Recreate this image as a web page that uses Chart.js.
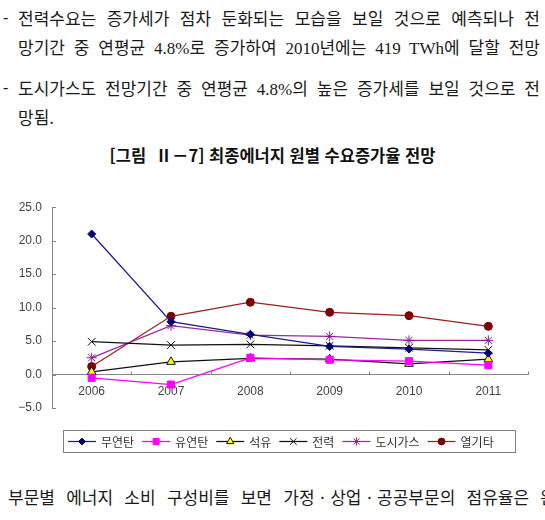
<!DOCTYPE html>
<html lang="ko">
<head>
<meta charset="utf-8">
<script src="https://cdn.jsdelivr.net/npm/chart.js@4.4.0/dist/chart.umd.min.js"></script>
<style>
  html, body { margin: 0; padding: 0; background: #fff; }
  body { width: 545px; height: 520px; position: relative; overflow: hidden; }
  .ln {
    position: absolute; height: 24px; line-height: 24px;
    font-family: "Noto Sans CJK KR", sans-serif;
    font-size: 17px; color: #1a1a1a;
    text-align: justify; text-align-last: justify;
  }
  .lat { font-family: "Liberation Serif", serif; font-size: 17px; }
  .dash { position: absolute; height: 24px; line-height: 24px; font-family: "Liberation Serif", serif; font-size: 16px; color: #1a1a1a; }
  #title {
    position: absolute; left: 0; top: 143px; width: 545px; height: 24px; line-height: 24px;
    text-align: center; font-family: "Noto Sans CJK KR", sans-serif; font-weight: bold;
    font-size: 16.5px; color: #111; white-space: pre;
  }
  #wrap { position: absolute; left: 0; top: 190px; width: 545px; height: 275px; }
</style>
</head>
<body>
<div class="dash" style="left:3px; top:6px;">-</div>
<div class="ln" style="left:18px; top:6px; width:522px;">전력수요는 증가세가 점차 둔화되는 모습을 보일 것으로 예측되나 전</div>
<div class="ln" style="left:18px; top:35px; width:522px;">망기간 중 연평균 <span class="lat">4.8%</span>로 증가하여 <span class="lat">2010</span>년에는 <span class="lat">419 TWh</span>에 달할 전망</div>
<div class="dash" style="left:3px; top:76px;">-</div>
<div class="ln" style="left:18px; top:76px; width:522px;">도시가스도 전망기간 중 연평균 <span class="lat">4.8%</span>의 높은 증가세를 보일 것으로 전</div>
<div class="ln" style="left:18px; top:105px; text-align:left; text-align-last:left;">망됨.</div>
<div id="title">[그림  Ⅱ－7] 최종에너지 원별 수요증가율 전망</div>
<div id="wrap"><canvas id="c" width="545" height="275"></canvas></div>
<div class="ln" style="left:8px; top:485px; width:548px;">부문별 에너지 소비 구성비를 보면 가정ㆍ상업ㆍ공공부문의 점유율은 완</div>

<script>
"use strict";

var years = ['2006', '2007', '2008', '2009', '2010', '2011'];
var seriesNames = ['무연탄', '유연탄', '석유', '전력', '도시가스', '열기타'];
var anthracite = [21.0, 7.9, 6.0, 4.2, 3.8, 3.2];
var bituminous = [-0.5, -1.5, 2.5, 2.2, 2.0, 1.4];
var oil = [0.4, 1.9, 2.4, 2.3, 1.6, 2.3];
var power = [4.9, 4.4, 4.5, 4.3, 4.0, 3.7];
var cityGas = [2.5, 7.3, 5.9, 5.7, 5.1, 5.1];
var heatEtc = [1.2, 8.7, 10.8, 9.3, 8.8, 7.2];
var yMin = -5, yMax = 25, yStep = 5;

var styles = [
    { line: '#1c1c8a', fill: '#000070', edge: '#000070', point: 'rectRot', r: 4 },
    { line: '#ff00ff', fill: '#ff00ff', edge: '#ff00ff', point: 'rect', r: 5 },
    { line: '#111111', fill: '#ffff00', edge: '#111111', point: 'triangle', r: 5 },
    { line: '#111111', fill: '#111111', edge: '#111111', point: 'crossRot', r: 5.5 },
    { line: '#9a2aa0', fill: '#8a1a90', edge: '#8a1a90', point: 'star', r: 5 },
    { line: '#9b1f1f', fill: '#800000', edge: '#800000', point: 'circle', r: 4 }
];

var values = [anthracite, bituminous, oil, power, cityGas, heatEtc];

var datasets = values.map(function (v, i) {
    var s = styles[i];
    return {
        label: seriesNames[i],
        data: v,
        borderColor: s.line,
        borderWidth: 1.25,
        tension: 0,
        pointStyle: s.point,
        pointRadius: s.r,
        pointHoverRadius: s.r,
        pointBackgroundColor: s.fill,
        pointBorderColor: s.edge,
        pointBorderWidth: 1
    };
});

// small inward tick marks on both axes
var tickMarks = {
    id: 'tickMarks',
    afterDatasetsDraw: function (chart) {
        var ctx = chart.ctx, area = chart.chartArea,
            ys = chart.scales.y, y0 = ys.getPixelForValue(0), n = years.length, i, v, p;
        ctx.save();
        ctx.strokeStyle = '#888';
        ctx.lineWidth = 1;
        ctx.beginPath();
        for (v = yMin; v <= yMax; v += yStep) {
            p = Math.round(ys.getPixelForValue(v)) + 0.5;
            ctx.moveTo(area.left, p);
            ctx.lineTo(area.left + 4, p);
        }
        for (i = 1; i <= n; i++) {
            p = Math.round(area.left + i * (area.right - area.left) / n) + 0.5;
            ctx.moveTo(p, y0);
            ctx.lineTo(p, y0 - 3);
        }
        ctx.stroke();
        ctx.restore();
    }
};

// boxed legend with line + marker samples
var boxLegend = {
    id: 'boxLegend',
    afterDraw: function (chart) {
        var ctx = chart.ctx, x = 68, y = 251.5;
        ctx.save();
        ctx.strokeStyle = '#808080';
        ctx.lineWidth = 1;
        ctx.strokeRect(63.5, 240.5, 452, 22);
        ctx.font = '12px "Noto Sans CJK KR", sans-serif';
        ctx.textBaseline = 'middle';
        chart.data.datasets.forEach(function (ds) {
            ctx.strokeStyle = ds.borderColor;
            ctx.lineWidth = 1.25;
            ctx.beginPath();
            ctx.moveTo(x, y);
            ctx.lineTo(x + 28, y);
            ctx.stroke();
            ctx.fillStyle = ds.pointBackgroundColor;
            ctx.strokeStyle = ds.pointBorderColor;
            ctx.lineWidth = 1;
            if (Chart.helpers && Chart.helpers.drawPoint) {
                Chart.helpers.drawPoint(ctx, { pointStyle: ds.pointStyle, radius: ds.pointRadius * 0.85, borderWidth: 1, rotation: 0 }, x + 14, y);
            } else {
                ctx.beginPath();
                ctx.arc(x + 14, y, 3.5, 0, Math.PI * 2);
                ctx.fill();
            }
            ctx.fillStyle = '#333';
            ctx.fillText(ds.label, x + 33, y + 0.5);
            x += 33 + ctx.measureText(ds.label).width + 8;
        });
        ctx.restore();
    }
};

new Chart(document.getElementById('c'), {
    type: 'line',
    data: { labels: years, datasets: datasets },
    options: {
        responsive: false,
        animation: false,
        devicePixelRatio: 1,
        layout: { padding: { top: 13, right: 17, bottom: 57, left: 0 } },
        plugins: {
            legend: { display: false },
            tooltip: { enabled: false }
        },
        scales: {
            x: {
                type: 'category',
                offset: true,
                position: { y: 0 },
                grid: { display: true, drawOnChartArea: false, drawTicks: false },
                border: { display: true, color: '#888', width: 1 },
                ticks: { color: '#444', padding: 10, font: { family: 'Liberation Sans', size: 12 }, maxRotation: 0 }
            },
            y: {
                min: yMin,
                max: yMax,
                afterFit: function (s) { s.width = 52; },
                grid: { display: true, drawOnChartArea: false, drawTicks: false },
                border: { display: true, color: '#888', width: 1 },
                ticks: {
                    stepSize: yStep,
                    padding: 10,
                    color: '#444',
                    font: { family: 'Liberation Sans', size: 12 },
                    callback: function (v) { return v.toFixed(1).replace('-', '\u2212'); }
                }
            }
        }
    },
    plugins: [tickMarks, boxLegend]
});
</script>
</body>
</html>
